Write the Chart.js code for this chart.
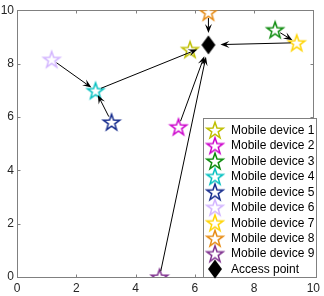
<!DOCTYPE html>
<html>
<head>
<meta charset="utf-8">
<script src="https://cdn.jsdelivr.net/npm/chart.js@4.4.1/dist/chart.umd.min.js"></script>
<style>
  html, body { margin: 0; padding: 0; background: #fff; }
  #wrap { width: 324px; height: 296px; }
</style>
</head>
<body>
<div id="wrap"><canvas id="c"></canvas></div>
<script>
// --- data ---
const deviceNames = ['Mobile device 1', 'Mobile device 2', 'Mobile device 3', 'Mobile device 4', 'Mobile device 5',
                     'Mobile device 6', 'Mobile device 7', 'Mobile device 8', 'Mobile device 9'];
const devX = [5.84, 5.45, 8.71, 2.65, 3.19, 1.17, 9.44, 6.46, 4.81];
const devY = [8.53, 5.63, 9.27, 6.99, 5.81, 8.16, 8.78, 9.93, 0.0];
const apName = 'Access point';
const apX = [6.46];
const apY = [8.70];
// links (device number, 0 = access point)
const linkFrom = [6, 5, 4, 2, 9, 8, 7, 3];
const linkTo   = [4, 4, 0, 0, 0, 0, 0, 7];
const xTicks = [0, 2, 4, 6, 8, 10];
const yTicks = [0, 2, 4, 6, 8, 10];

// --- styles ---
const devColors = ['#bfbf00', '#cc00cc', '#0a8a0a', '#00c0c0', '#142a8c', '#d2b4ff', '#ffd400', '#e68a12', '#7e2f8e'];
const axisColor = '#808080';
const textColor = '#262626';

Chart.defaults.font.family = "'Liberation Sans', Arial, Helvetica, sans-serif";
Chart.defaults.font.size = 12;
Chart.defaults.color = textColor;

function makeStar(color) {
    const s = 22, c = document.createElement('canvas');
    c.width = s; c.height = s;
    const g = c.getContext('2d');
    const R = 8.6, r = 3.4;
    g.beginPath();
    for (let k = 0; k < 10; k++) {
        const a = -Math.PI / 2 + k * Math.PI / 5;
        const rr = k % 2 ? r : R;
        const px = s / 2 + rr * Math.cos(a), py = s / 2 + 0.8 + rr * Math.sin(a);
        k ? g.lineTo(px, py) : g.moveTo(px, py);
    }
    g.closePath();
    g.fillStyle = '#fff';
    g.fill();
    g.lineWidth = 1.5;
    g.strokeStyle = color;
    g.stroke();
    return c;
}

function makeDiamond() {
    const w = 16, h = 20, c = document.createElement('canvas');
    c.width = w; c.height = h;
    const g = c.getContext('2d');
    g.beginPath();
    g.moveTo(w / 2, 0.5); g.lineTo(w - 1, h / 2); g.lineTo(w / 2, h - 0.5); g.lineTo(1, h / 2);
    g.closePath();
    g.fillStyle = '#000';
    g.fill();
    return c;
}

const datasets = deviceNames.map((name, i) => ({
    label: name,
    data: [{ x: devX[i], y: devY[i] }],
    pointStyle: makeStar(devColors[i]),
    pointRadius: 9
}));
datasets.push({
    label: apName,
    data: apX.map((x, i) => ({ x: x, y: apY[i] })),
    pointStyle: makeDiamond(),
    pointRadius: 9
});

function pointPx(chart, n) {
    const ds = n === 0 ? chart.data.datasets[9] : chart.data.datasets[n - 1];
    const p = ds.data[0];
    return { x: chart.scales.x.getPixelForValue(p.x), y: chart.scales.y.getPixelForValue(p.y) };
}

const arrowsPlugin = {
    id: 'arrows',
    afterDatasetsDraw(chart) {
        const g = chart.ctx;
        g.save();
        g.strokeStyle = '#000';
        g.fillStyle = '#000';
        g.lineWidth = 1;
        linkFrom.forEach((f, i) => {
            const a = pointPx(chart, f), b = pointPx(chart, linkTo[i]);
            const dx = b.x - a.x, dy = b.y - a.y, L = Math.hypot(dx, dy);
            const ux = dx / L, uy = dy / L;
            const startGap = 6, endGap = linkTo[i] === 0 ? 12 : 5;
            const sx = a.x + ux * startGap, sy = a.y + uy * startGap;
            const ex = b.x - ux * endGap, ey = b.y - uy * endGap;
            const hl = 9, hw = 3.5;
            g.beginPath();
            g.moveTo(sx, sy);
            g.lineTo(ex - ux * hl * 0.6, ey - uy * hl * 0.6);
            g.stroke();
            g.beginPath();
            g.moveTo(ex, ey);
            g.lineTo(ex - ux * hl - uy * hw, ey - uy * hl + ux * hw);
            g.lineTo(ex - ux * hl * 0.6, ey - uy * hl * 0.6);
            g.lineTo(ex - ux * hl + uy * hw, ey - uy * hl - ux * hw);
            g.closePath();
            g.fill();
        });
        g.restore();
    }
};

const boxPlugin = {
    id: 'box',
    beforeDatasetsDraw(chart) {
        const { left, right, top, bottom } = chart.chartArea;
        const g = chart.ctx;
        g.save();
        g.strokeStyle = axisColor;
        g.lineWidth = 1;
        const L = Math.round(left) + 0.5, R = Math.round(right) + 0.5;
        const T = Math.round(top) + 0.5, B = Math.round(bottom) + 0.5;
        g.strokeRect(L, T, R - L, B - T);
        g.beginPath();
        xTicks.forEach(v => {
            const px = Math.round(chart.scales.x.getPixelForValue(v)) + 0.5;
            g.moveTo(px, B); g.lineTo(px, B - 3);
            g.moveTo(px, T); g.lineTo(px, T + 3);
        });
        yTicks.forEach(v => {
            const py = Math.round(chart.scales.y.getPixelForValue(v)) + 0.5;
            g.moveTo(L, py); g.lineTo(L + 3, py);
            g.moveTo(R, py); g.lineTo(R - 3, py);
        });
        g.stroke();
        g.restore();
    }
};

const legendPlugin = {
    id: 'boxLegend',
    afterDraw(chart) {
        const g = chart.ctx;
        const x0 = 203.5, y0 = 118.5, x1 = 316.5, y1 = 277.5;
        g.save();
        g.fillStyle = '#fff';
        g.fillRect(x0, y0, x1 - x0, y1 - y0);
        g.strokeStyle = axisColor;
        g.lineWidth = 1;
        g.strokeRect(x0, y0, x1 - x0, y1 - y0);
        g.font = "12px 'Liberation Sans', Arial, sans-serif";
        g.fillStyle = '#000';
        g.textBaseline = 'middle';
        chart.data.datasets.forEach((ds, i) => {
            const cy = 130 + i * 15.45;
            const img = ds.pointStyle;
            g.drawImage(img, 215 - img.width / 2, cy - img.height / 2);
            g.fillText(ds.label, 231, cy + 0.5);
        });
        g.restore();
    }
};

new Chart(document.getElementById('c'), {
    type: 'scatter',
    data: { datasets: datasets },
    options: {
        responsive: true,
        maintainAspectRatio: false,
        animation: false,
        layout: { padding: { top: 6, right: 8, left: 0, bottom: 0 } },
        plugins: {
            legend: { display: false },
            tooltip: { enabled: false }
        },
        scales: {
            x: {
                min: 0, max: 10,
                grid: { display: false, drawTicks: false },
                border: { display: false },
                ticks: { stepSize: 2, padding: 4, maxRotation: 0, color: textColor },
                afterFit(scale) { scale.height = 19; }
            },
            y: {
                min: 0, max: 10,
                grid: { display: false, drawTicks: false },
                border: { display: false },
                ticks: { stepSize: 2, padding: 3, color: textColor },
                afterFit(scale) { scale.width = 17; }
            }
        }
    },
    plugins: [boxPlugin, arrowsPlugin, legendPlugin]
});
</script>
</body>
</html>
